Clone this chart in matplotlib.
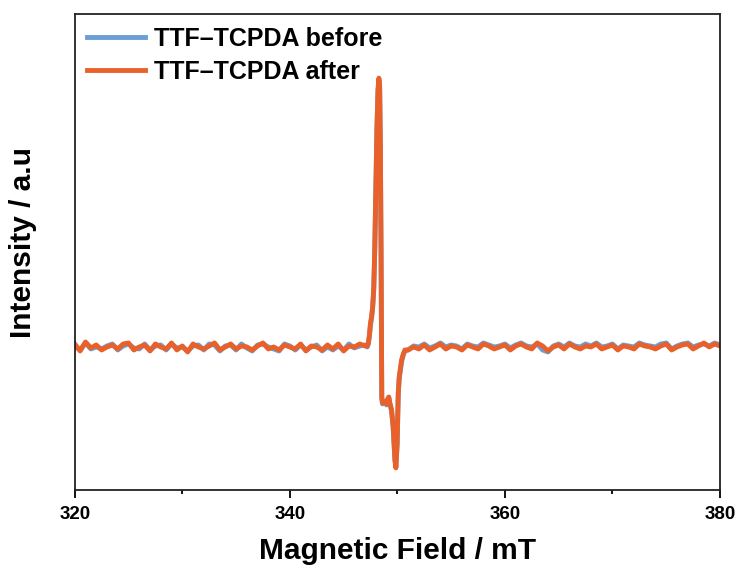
import numpy as np
import matplotlib
matplotlib.use("Agg")
from matplotlib import pyplot as plt
from matplotlib.ticker import MultipleLocator

plt.rcParams['font.family'] = ['Liberation Sans', 'DejaVu Sans']
plt.rcParams['font.weight'] = 'bold'

# baseline noise (arbitrary units, baseline = 0) left of the signal, 320 -> 347 mT
left_before = [1, -3, 4, -2, 0, -2, 1, 3, -3, 1, 3, -1, -2, 3, -3, 1, 2, -3, 3, -1,
               0, -4, 1, 2, -3, 3, 2, -4, 1, 2, -3, 3, -1, -4, 2, 3, 0, -2, -4, 3,
               1, -3, 2, -3, 0, 2, -4, 0, -3, 1, -3, 3, -1, 1, 2]
left_after = [3, -4, 5, -1, 2, -3, 0, 2, -2, 3, 4, -3, 0, 2, -4, 3, 0, -2, 4, -3,
              1, -5, 3, 0, -2, 1, 4, -3, 0, 3, -2, 1, 0, -3, 1, 4, -2, 0, -3, 2,
              0, -2, 3, -4, 1, 0, -3, 2, -2, 3, -4, 1, 0, 3, 1]

# the signal itself
sig_field = [347.2, 347.3, 347.4, 347.5, 347.6, 347.7, 347.8, 347.9, 348.0, 348.1,
             348.2, 348.28, 348.35, 348.42, 348.48, 348.55, 348.62, 348.8, 349.0, 349.1,
             349.2, 349.3, 349.46, 349.61, 349.77, 349.86, 349.98, 350.08, 350.17, 350.39,
             350.55, 350.7]
sig_before = [0, 3, 11, 22, 29, 39, 56, 98, 158, 218,
              256, 267, 260, 198, 98, -52, -57, -56, -58, -53,
              -51, -57, -64, -81, -112, -120, -97, -48, -32, -15,
              -8, -4]
sig_after = [1, 4, 12, 24, 30, 40, 58, 100, 160, 220,
             258, 269, 262, 200, 100, -50, -56, -55, -57, -52,
             -50, -56, -63, -80, -113, -121, -96, -46, -30, -13,
             -7, -3]

# baseline noise right of the signal, 351 -> 380 mT
right_before = [-3, 1, 0, 3, -1, 1, 4, 0, 2, 1, -2, 3, 1, 0, 4, 2, 0, 1, 3, -1,
                2, 4, 1, 0, 3, -3, -5, 1, 3, 0, 4, 1, 0, 3, 1, 4, 0, 1, 3, -2,
                2, 1, 0, 4, 2, 1, 0, 3, 4, -2, 1, 3, 4, 0, 2, 3, 1, 4, 2]
right_after = [-3, 0, -2, 2, -3, 0, 3, -2, 1, 0, -3, 2, 0, -2, 3, 1, -2, 0, 2, -3,
               1, 3, 0, -2, 4, 1, -4, 0, 2, -2, 3, 0, -2, 1, 0, 3, -2, 0, 2, -3,
               1, 0, -2, 3, 1, 0, -2, 1, 3, -3, 0, 2, 3, -2, 1, 4, 0, 3, 1]


def series(left, sig, right):
    x = np.concatenate([np.linspace(320, 347, len(left)), sig_field,
                        np.linspace(351, 380, len(right))])
    y = np.concatenate([left, sig, right])
    return x, y


x_b, y_b = series(left_before, sig_before, right_before)
x_a, y_a = series(left_after, sig_after, right_after)

fig = plt.figure(figsize=(7.4, 5.67), dpi=100)
ax = fig.add_axes([0.101, 0.136, 0.872, 0.839])

ax.plot(x_b, y_b, color='#6A9FD6', lw=3.5, label='TTF\u2013TCPDA before')
ax.plot(x_a, y_a, color='#E9612A', lw=3.5, label='TTF\u2013TCPDA after')

ax.set_xlim(320, 380)
ax.set_ylim(-143, 333)
ax.xaxis.set_major_locator(MultipleLocator(20))
ax.xaxis.set_minor_locator(MultipleLocator(10))
ax.tick_params(axis='x', which='major', length=5.8, width=1.3, labelsize=13.5, pad=6)
ax.tick_params(axis='x', which='minor', length=3, width=1.3)
ax.set_yticks([])
for s in ax.spines.values():
    s.set_linewidth(1.3)
    s.set_color('#222222')

ax.set_xlabel('Magnetic Field / mT', fontsize=21.5, fontweight='bold', labelpad=10)
ax.set_ylabel('Intensity / a.u', fontsize=21.5, fontweight='bold')
ax.yaxis.set_label_coords(-0.059, 0.519)

ax.legend(loc='upper left', frameon=False, fontsize=18, handlelength=2.3,
          handletextpad=0.38, labelspacing=0.36, borderaxespad=0.1,
          borderpad=0.4)

fig.savefig('out.png', dpi=100)
